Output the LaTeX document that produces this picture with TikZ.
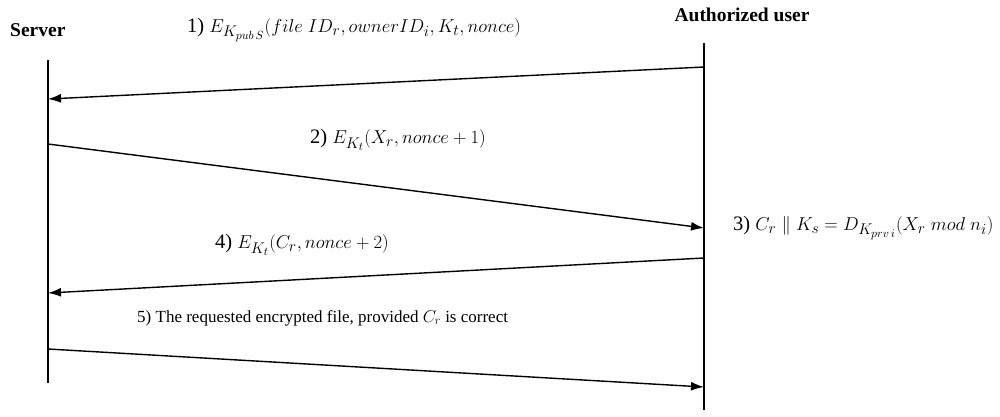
\documentclass[tikz,border=0pt]{standalone}
\usepackage{graphicx}
\usepackage{fontspec}
\setmainfont{Liberation Serif}
\usetikzlibrary{arrows.meta}
\DeclareMathSizes{19}{19}{14}{11}
\newcommand{\msgtxt}[1]{\scalebox{1.08}{#1}}
\begin{document}
\begin{tikzpicture}[x=1pt,y=-1pt,
  lifeline/.style={line width=2pt},
  msg/.style={line width=1.4pt,-{Latex[length=13pt,width=9pt]}},
  lbl/.style={font=\fontsize{17}{19}\selectfont,inner sep=0pt,anchor=west},
  mlbl/.style={font=\fontsize{19}{21}\selectfont,inner sep=0pt,anchor=west},
  head/.style={font=\fontsize{19.5}{21}\selectfont\bfseries,inner sep=0pt}]
\useasboundingbox (0,0) rectangle (1000,417);
% lifelines
\coordinate (sTop) at (48,60);
\coordinate (sBot) at (48,383);
\coordinate (uTop) at (704,43);
\coordinate (uBot) at (704,410);
\draw[lifeline] (sTop) -- (sBot);
\draw[lifeline] (uTop) -- (uBot);
% headers
\node[head,anchor=west] (server) at (10,30) {Server};
\node[head] (user) at (742,15) {Authorized user};
% message endpoints
\coordinate (m1a) at (704,67);
\coordinate (m1b) at (48,99);
\coordinate (m2a) at (48,144);
\coordinate (m2b) at (704,228);
\coordinate (m4a) at (704,258);
\coordinate (m4b) at (48,293);
\coordinate (m5a) at (48,349);
\coordinate (m5b) at (704,387);
\draw[msg] (m1a) -- (m1b);
\draw[msg] (m2a) -- (m2b);
\draw[msg] (m4a) -- (m4b);
\draw[msg] (m5a) -- (m5b);
% labels
\node[mlbl] (l1) at (187,30) {\msgtxt{1) $E_{K_{pub\,S}}(file\ ID_r, ownerID_i, K_t, nonce)$}};
\node[mlbl] (l2) at (310,140) {\msgtxt{2) $E_{K_t}(X_r, nonce+1)$}};
\node[mlbl] (l3) at (733,228) {\msgtxt{3) $C_r \parallel K_s = D_{K_{prv\,i}}(X_r\ mod\ n_i)$}};
\node[mlbl] (l4) at (215,245) {\msgtxt{4) $E_{K_t}(C_r, nonce+2)$}};
\node[lbl] (l5) at (137,318) {5) The requested encrypted file, provided $C_r$ is correct};
\end{tikzpicture}
\end{document}
